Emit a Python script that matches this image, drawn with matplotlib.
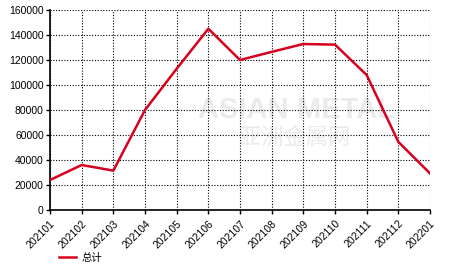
import matplotlib
matplotlib.use("Agg")
from matplotlib import pyplot as plt

plt.rcParams['font.family'] = ['Liberation Sans', 'Noto Sans CJK SC', 'DejaVu Sans']

# data
months = ['202101', '202102', '202103', '202104', '202105', '202106', '202107',
          '202108', '202109', '202110', '202111', '202112', '202201']
total = [24000, 36000, 31500, 80000, 113000, 145000, 120000,
         126500, 132800, 132300, 108000, 54500, 29300]
yticks = [0, 20000, 40000, 60000, 80000, 100000, 120000, 140000, 160000]

fig = plt.figure(figsize=(4.66, 2.72), dpi=100)
ax = fig.add_axes([50/466, 62/272, 380/466, 200/272])

# watermark
ax.text(0.65, 0.5, 'ASIAN METAL', transform=ax.transAxes, fontsize=21,
        fontweight='bold', color='#ebebeb', ha='center', va='center', zorder=0)
ax.text(0.645, 0.36, '亚洲金属网', transform=ax.transAxes, fontsize=16,
        color='#ebebeb', ha='center', va='center', zorder=0)

x = list(range(len(months)))
line, = ax.plot(x, total, color='#d7001e', lw=1.8, zorder=3, label='总计')

ax.set_xlim(0, len(months) - 1)
ax.set_ylim(0, 160000)
ax.set_xticks(x)
ax.set_xticklabels(months, rotation=45, ha='right', rotation_mode='anchor')
ax.set_yticks(yticks)
ax.set_yticklabels([str(v) for v in yticks])
ax.tick_params(axis='both', labelsize=7.5, length=3, width=1, pad=1.5)
ax.tick_params(axis='x', pad=3)

ax.grid(True, color='black', linestyle=(0, (1, 1.5)), linewidth=0.8)
ax.set_axisbelow(True)
for s in ['top', 'right']:
    ax.spines[s].set_visible(False)
for s in ['left', 'bottom']:
    ax.spines[s].set_linewidth(1.2)

fig.legend(handles=[line], loc='center left', bbox_to_anchor=(50/466, 14/272),
           frameon=False, fontsize=7.5, handlelength=1.6, handletextpad=0.5)

fig.savefig('out.png', dpi=100)
